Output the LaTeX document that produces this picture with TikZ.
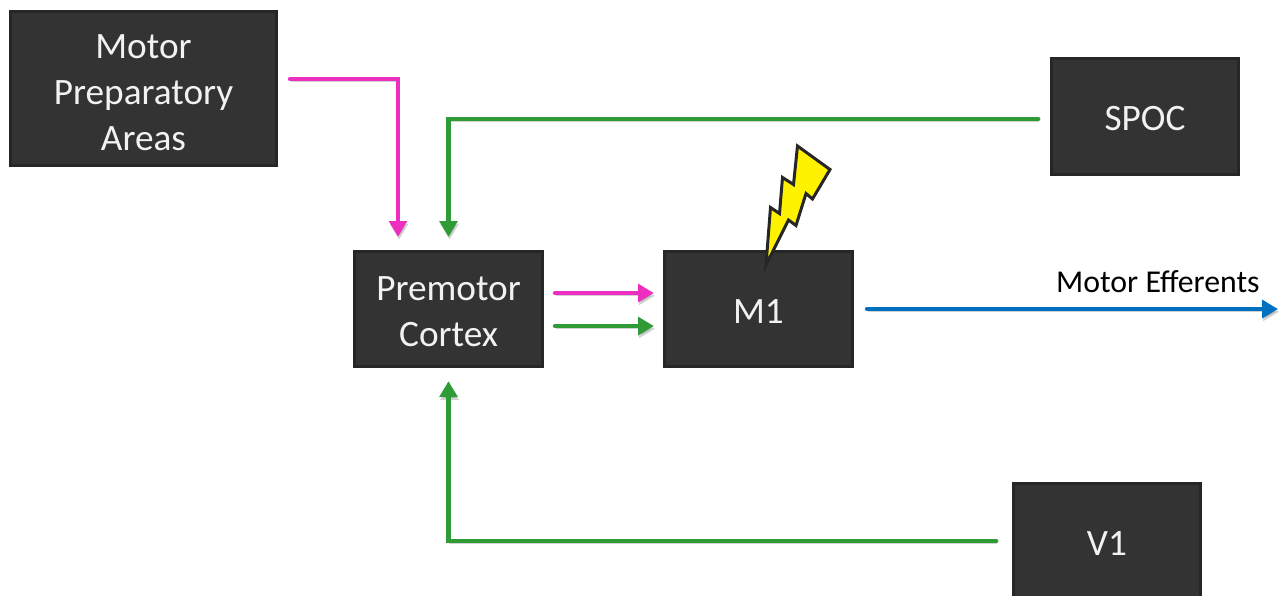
\documentclass[tikz,border=0pt]{standalone}
\usepackage{fontspec}
\setmainfont{Carlito}
\usepackage{xcolor}
\usetikzlibrary{arrows.meta}
\definecolor{boxfill}{HTML}{333333}
\definecolor{boxline}{HTML}{262626}
\definecolor{pinkpath}{HTML}{EE2EC0}
\definecolor{greenpath}{HTML}{2F9B36}
\definecolor{bluepath}{HTML}{0070C0}
\begin{document}
\begin{tikzpicture}
			\tikzstyle{area} = [rectangle,fill=boxfill,draw=boxline,line width=1.6pt,text=white!95!black,align=center,font=\fontsize{21.2}{26}\selectfont,execute at begin node={\rule{0pt}{16pt}}]
			\tikzstyle{path} = [line width=2.6pt,line cap=round,-{Triangle[length=9pt,width=10pt]},preaction={draw=black,opacity=0.18,transform canvas={xshift=0.6pt,yshift=-1.6pt}}]
			\tikzstyle{pinkarrow} = [path,draw=pinkpath]
			\tikzstyle{greenarrow} = [path,draw=greenpath]
			\tikzstyle{bluearrow} = [path,draw=bluepath]
			\useasboundingbox (0,0) rectangle (25.62,11.92);
			\node[area,minimum width=5.33cm,minimum height=3.09cm] (mpa) at (2.87,10.15) {\rule{0pt}{18.5pt}Motor\\Preparatory\\Areas};
			\node[area,minimum width=3.77cm,minimum height=2.31cm] (pmc) at (8.97,5.74) {\rule{0pt}{16.8pt}Premotor\\Cortex};
			\node[area,minimum width=3.77cm,minimum height=2.31cm] (m1) at (15.17,5.74) {M1};
			\node[area,minimum width=3.74cm,minimum height=2.31cm] (spoc) at (22.9,9.59) {SPOC};
			\node[area,minimum width=3.74cm,minimum height=2.31cm] (v1) at (22.14,1.1) {V1};
			\coordinate (eff) at (25.56,5.74);
			\node[font=\fontsize{18.1}{22}\selectfont,anchor=base east,inner sep=0pt] (efflabel) at (25.2,6.07) {Motor Efferents};
			\draw[pinkarrow] ([shift={(0.24,0.19)}]mpa.east) -| ([shift={(-1.01,0.26)}]pmc.north);
			\draw[greenarrow] ([shift={(-0.24,-0.05)}]spoc.west) -| ([yshift=0.26cm]pmc.north);
			\draw[greenarrow] ([xshift=-0.32cm]v1.west) -| ([yshift=-0.26cm]pmc.south);
			\draw[pinkarrow] ([shift={(0.22,0.32)}]pmc.east) -- ([shift={(-0.18,0.32)}]m1.west);
			\draw[greenarrow] ([shift={(0.22,-0.34)}]pmc.east) -- ([shift={(-0.18,-0.34)}]m1.west);
			\draw[bluearrow] ([xshift=0.26cm]m1.east) -- (eff);
			\draw[fill=yellow,draw=boxline,line width=1.7pt,line join=miter] (15.95,9.0) -- (16.6,8.53) -- (16.25,7.94) -- (16.12,8.05) -- (15.92,7.41) -- (15.77,7.52) -- (15.32,6.62) -- (15.41,7.77) -- (15.59,7.65) -- (15.65,8.37) -- (15.87,8.23) -- cycle;
\end{tikzpicture}
\end{document}
